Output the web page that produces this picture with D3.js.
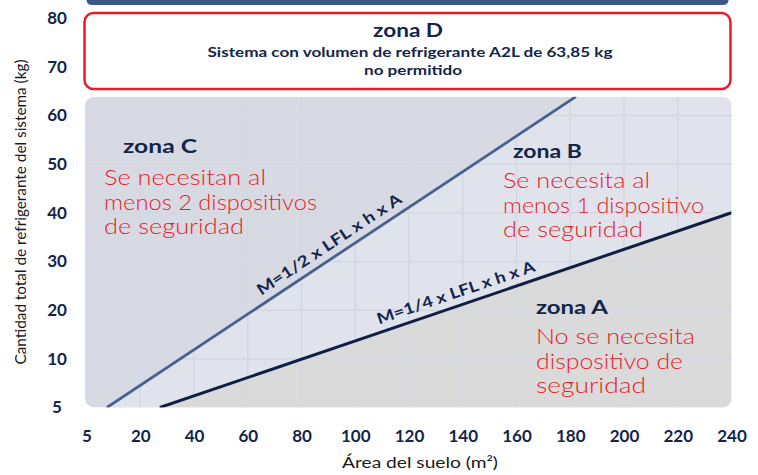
<!DOCTYPE html>
<html>
<head>
<meta charset="utf-8">
<script src="https://cdn.jsdelivr.net/npm/d3@7"></script>
<style>
  html, body { margin: 0; padding: 0; background: #ffffff; }
  svg { display: block; }
  text { font-family: Lato, "Noto Sans", sans-serif; }
</style>
</head>
<body>
<svg id="chart" width="758" height="475"></svg>
<script>
// Axis ticks: tick positions and the labels printed at them
const xTickValues = [0, 20, 40, 60, 80, 100, 120, 140, 160, 180, 200, 220, 240];
const xTickLabels = ["5", "20", "40", "60", "80", "100", "120", "140", "160", "180", "200", "220", "240"];
const yTickValues = [0, 10, 20, 30, 40, 50, 60, 70, 80];
const yTickLabels = ["5", "10", "20", "30", "40", "50", "60", "70", "80"];

// Maximum permitted charge (kg)
const maxCharge = 63.85;

// Limit lines: [area m², charge kg]
const halfLimit = [[7.6, 0], [182.1, maxCharge]];     // M = 1/2 x LFL x h x A
const quarterLimit = [[27.3, 0], [240, 40]];          // M = 1/4 x LFL x h x A

// Zone texts
const zoneC = { title: "zona C", lines: ["Se necesitan al", "menos 2 dispositivos", "de seguridad"] };
const zoneB = { title: "zona B", lines: ["Se necesita al", "menos 1 dispositivo", "de seguridad"] };
const zoneA = { title: "zona A", lines: ["No se necesita", "dispositivo de", "seguridad"] };
const zoneD = { title: "zona D", lines: ["Sistema con volumen de refrigerante A2L de 63,85 kg", "no permitido"] };

const navy = "#13254a";
const red = "#ea1c27";

const svg = d3.select("#chart");

const x = d3.scaleLinear().domain([0, 240]).range([86.5, 731.5]);
const y = d3.scaleLinear().domain([0, 80]).range([407.5, 18]);

const defs = svg.append("defs");
const x0 = x(0) - 1.5, x1 = x(240);
const yTop = y(maxCharge), yBot = y(0);
defs.append("clipPath").attr("id", "plotClip")
  .append("rect")
  .attr("x", x0).attr("y", yTop)
  .attr("width", x1 - x0).attr("height", yBot - yTop)
  .attr("rx", 9).attr("ry", 9);

// Header bar at the top
svg.append("path")
  .attr("d", `M${x(0)},0 H${x(240) - 3} V0 Q${x(240) - 3},5 ${x(240) - 9},5 H${x(0) + 6} Q${x(0)},5 ${x(0)},0 Z`)
  .attr("fill", "#3e5686");

// Zone D box
const dBox = svg.append("g");
dBox.append("rect")
  .attr("x", 84.5).attr("y", 13)
  .attr("width", 646).attr("height", 76)
  .attr("rx", 9).attr("ry", 9)
  .attr("fill", "#ffffff")
  .attr("stroke", red).attr("stroke-width", 2.5);
dBox.append("text")
  .attr("x", 408).attr("y", 37)
  .attr("text-anchor", "middle")
  .attr("font-size", 19).attr("font-weight", 700)
  .attr("fill", navy)
  .attr("textLength", 70).attr("lengthAdjust", "spacingAndGlyphs")
  .text(zoneD.title);
const dWidths = [405, 98];
dBox.selectAll("text.dline").data(zoneD.lines).join("text")
  .attr("class", "dline")
  .attr("x", (d, i) => i === 0 ? 410 : 413).attr("y", (d, i) => 57 + i * 17.5)
  .attr("text-anchor", "middle")
  .attr("font-size", 14).attr("font-weight", 700)
  .attr("fill", navy)
  .attr("textLength", (d, i) => dWidths[i]).attr("lengthAdjust", "spacingAndGlyphs")
  .text(d => d);

// Plot area with the three zones
const plot = svg.append("g").attr("clip-path", "url(#plotClip)");

plot.append("rect")
  .attr("x", x0).attr("y", yTop)
  .attr("width", x1 - x0).attr("height", yBot - yTop)
  .attr("fill", "#d7dae3");

const poly = pts => "M" + pts.map(p => `${x(p[0])},${y(p[1])}`).join("L") + "Z";

// zona B: between the two limit lines
plot.append("path")
  .attr("d", poly([halfLimit[0], halfLimit[1], [240, maxCharge], quarterLimit[1], quarterLimit[0]]))
  .attr("fill", "#e0e3ec");

// zona A: below the 1/4 line
plot.append("path")
  .attr("d", poly([quarterLimit[0], quarterLimit[1], [240, 0]]))
  .attr("fill", "#dadada");

// Grid
const gridColor = "#d4d7e1";
plot.selectAll("line.vgrid").data(xTickValues.filter(v => v > 0 && v < 240)).join("line")
  .attr("class", "vgrid")
  .attr("x1", d => x(d)).attr("x2", d => x(d))
  .attr("y1", yTop).attr("y2", yBot)
  .attr("stroke", gridColor).attr("stroke-width", 1.5);
plot.selectAll("line.hgrid").data(yTickValues.filter(v => v > 0 && v < maxCharge)).join("line")
  .attr("class", "hgrid")
  .attr("x1", x0).attr("x2", x1)
  .attr("y1", d => y(d)).attr("y2", d => y(d))
  .attr("stroke", gridColor).attr("stroke-width", 1.5);

// Limit lines
const line = d3.line().x(d => x(d[0])).y(d => y(d[1]));
plot.append("path").attr("d", line(halfLimit))
  .attr("fill", "none").attr("stroke", "#46618f").attr("stroke-width", 2.8);
plot.append("path").attr("d", line(quarterLimit))
  .attr("fill", "none").attr("stroke", "#0f1f44").attr("stroke-width", 3);

// Formula labels along the lines
function lineLabel(seg, area, offset, txt, len) {
  const [p0, p1] = seg;
  const t = (area - p0[0]) / (p1[0] - p0[0]);
  const charge = p0[1] + t * (p1[1] - p0[1]);
  const ang = Math.atan2(y(p1[1]) - y(p0[1]), x(p1[0]) - x(p0[0])) * 180 / Math.PI;
  svg.append("text")
    .attr("transform", `translate(${x(area)},${y(charge)}) rotate(${ang})`)
    .attr("y", -offset)
    .attr("text-anchor", "middle")
    .attr("font-size", 15.5).attr("font-weight", 700)
    .attr("fill", navy)
    .attr("textLength", len).attr("lengthAdjust", "spacingAndGlyphs")
    .text(txt);
}
lineLabel(halfLimit, 93, 8, "M=1/2 x LFL x h x A", 170);
lineLabel(quarterLimit, 139, 8, "M=1/4 x LFL x h x A", 166);

// Zone labels: bold title, then red lines in a light weight
function zoneLabel(z, tx, ty, lx, firstY, titleW, widths) {
  svg.append("text")
    .attr("x", tx).attr("y", ty)
    .attr("font-size", 18.5).attr("font-weight", 700)
    .attr("fill", navy)
    .attr("textLength", titleW).attr("lengthAdjust", "spacingAndGlyphs")
    .text(z.title);
  svg.selectAll(null).data(z.lines).join("text")
    .attr("x", lx).attr("y", (d, i) => firstY + i * 24.5)
    .attr("font-size", 21).attr("font-weight", 300)
    .attr("fill", red)
    .attr("textLength", (d, i) => widths[i]).attr("lengthAdjust", "spacingAndGlyphs")
    .text(d => d);
}
zoneLabel(zoneC, 123, 153, 104, 185, 74, [162, 213, 140]);
zoneLabel(zoneB, 513, 158, 503, 188, 69, [147, 201, 140]);
zoneLabel(zoneA, 536, 314, 536, 344, 72, [159, 147, 110]);

// Axes
const xAxis = d3.axisBottom(x).tickValues(xTickValues)
  .tickFormat((d, i) => xTickLabels[i]).tickSize(0).tickPadding(0);
const gx = svg.append("g").attr("transform", "translate(0,430)").call(xAxis);
gx.select(".domain").remove();
gx.selectAll("text")
  .attr("dy", "0.71em")
  .attr("font-size", 17).attr("font-weight", 700)
  .attr("fill", navy)
  .style("font-family", "Lato, sans-serif");

const yAxis = d3.axisLeft(y).tickValues(yTickValues)
  .tickFormat((d, i) => yTickLabels[i]).tickSize(0).tickPadding(0);
const gy = svg.append("g").attr("transform", "translate(57,0)").call(yAxis);
gy.select(".domain").remove();
gy.selectAll("text")
  .attr("text-anchor", "middle")
  .attr("font-size", 17).attr("font-weight", 700)
  .attr("fill", navy)
  .style("font-family", "Lato, sans-serif");

// Axis titles
svg.append("text")
  .attr("x", 420).attr("y", 468)
  .attr("text-anchor", "middle")
  .attr("font-size", 15.5)
  .attr("fill", "#1a1a1a")
  .attr("textLength", 156).attr("lengthAdjust", "spacingAndGlyphs")
  .text("Área del suelo (m²)");
svg.append("text")
  .attr("transform", "translate(26,212) rotate(-90)")
  .attr("text-anchor", "middle")
  .attr("font-size", 14.5)
  .attr("fill", "#1a1a1a")
  .attr("textLength", 305).attr("lengthAdjust", "spacingAndGlyphs")
  .text("Cantidad total de refrigerante del sistema (kg)");
</script>
</body>
</html>
